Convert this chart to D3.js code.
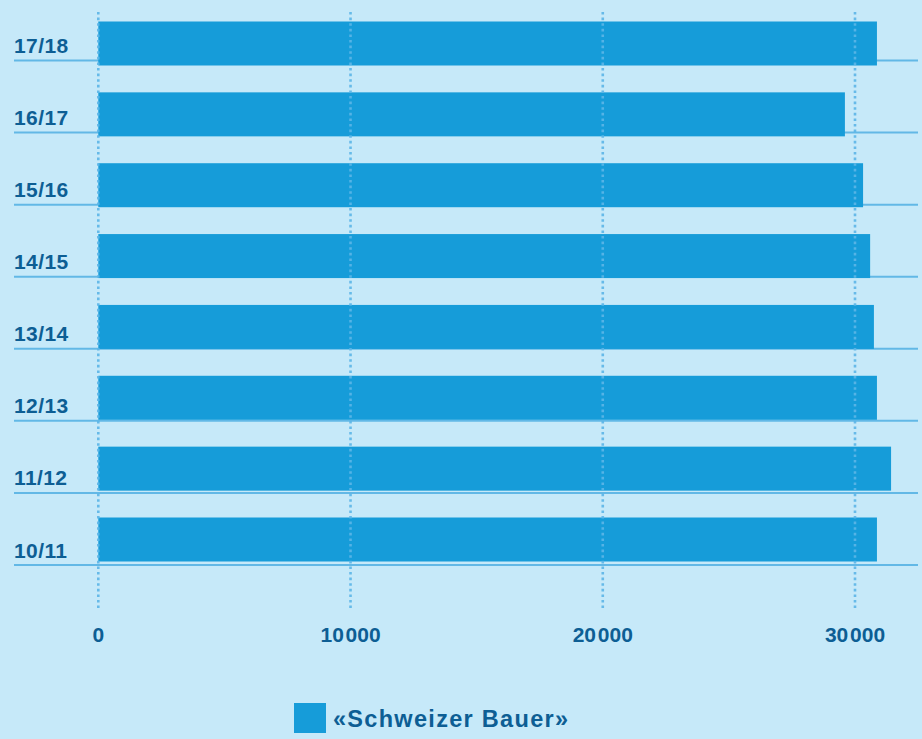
<!DOCTYPE html>
<html><head><meta charset="utf-8">
<script src="https://cdn.jsdelivr.net/npm/d3@7"></script>
<style>
html,body{margin:0;padding:0;background:#c6e9f9;}
svg{display:block;}
text{font-family:"Liberation Sans",Arial,Helvetica,sans-serif;font-weight:bold;fill:#0d5e94;}
</style></head>
<body>
<svg id="chart" width="922" height="739"></svg>
<script>
const categories = ["17/18","16/17","15/16","14/15","13/14","12/13","11/12","10/11"];
const values = [30870, 29600, 30320, 30600, 30750, 30870, 31430, 30870];
const tickValues = [0, 10000, 20000, 30000];
const tickLabels = ["0", "10\u200A000", "20\u200A000", "30\u200A000"];
const seriesName = "«Schweizer Bauer»";

const svg = d3.select("#chart");
svg.append("rect").attr("width",922).attr("height",739).attr("fill","#c6e9f9");

const x = d3.scaleLinear().domain([0,30000]).range([98.3,855]);
const yBar = d3.scalePoint().domain(categories).range([43.5,539.5]);
const yLine = d3.scalePoint().domain(categories).range([60.5,565]);
const barH = 44;

// row separator lines
svg.append("g").selectAll("line").data(categories).join("line")
  .attr("x1",14).attr("x2",918)
  .attr("y1",d=>yLine(d)).attr("y2",d=>yLine(d))
  .attr("stroke","#62b8e6").attr("stroke-width",2);

// category labels
svg.append("g").selectAll("text").data(categories).join("text")
  .attr("x",14).attr("y",(d,i)=>yLine(d)-7.5)
  .attr("font-size","21px")
  .attr("letter-spacing","0.4px")
  .text(d=>d);

// bars
svg.append("g").selectAll("rect").data(values).join("rect")
  .attr("x",x(0))
  .attr("y",(d,i)=>yBar(categories[i])-barH/2)
  .attr("width",d=>x(d)-x(0))
  .attr("height",barH)
  .attr("fill","#169cd9");

// dotted vertical grid
svg.append("g").selectAll("line").data(tickValues).join("line")
  .attr("x1",d=>x(d)).attr("x2",d=>x(d))
  .attr("y1",12).attr("y2",608)
  .attr("stroke","#5cb6e8").attr("stroke-width",2.6)
  .attr("stroke-dasharray","2.6 3")
  .attr("opacity",0.9);

// x tick labels
svg.append("g").selectAll("text").data(tickValues).join("text")
  .attr("x",d=>x(d)).attr("y",642)
  .attr("text-anchor","middle")
  .attr("font-size","21px")
  .text((d,i)=>tickLabels[i]);

// legend
const lg = svg.append("g");
lg.append("rect").attr("x",294).attr("y",703).attr("width",32).attr("height",30).attr("fill","#169cd9");
lg.append("text").attr("x",333).attr("y",727).attr("font-size","23.5px")
  .attr("letter-spacing","1.3px").text(seriesName);
</script>
</body></html>
